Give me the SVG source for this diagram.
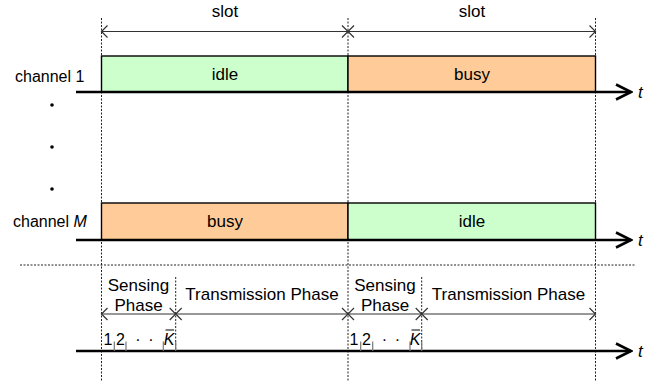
<svg xmlns="http://www.w3.org/2000/svg" width="667" height="381" viewBox="0 0 667 381">
<defs>
<style>
text{font-family:"Liberation Sans",Arial,sans-serif;font-size:17px;fill:#000}
.c{text-anchor:middle}
.it{font-style:italic}
.sm{font-size:16px}
.dot{stroke:#222;stroke-width:1;stroke-dasharray:2,1.5;fill:none}
.dim{stroke:#333;stroke-width:1.2;fill:none;marker-start:url(#sh);marker-end:url(#sh)}
.axis{stroke:#000;stroke-width:2.6;fill:none;marker-end:url(#ah)}
.tick{stroke:#777;stroke-width:1.2}
.g{fill:#CCFFCC;stroke:#000;stroke-width:1.4}
.o{fill:#FFCC99;stroke:#000;stroke-width:1.4}
</style>
<marker id="sh" viewBox="-8 -8 10 16" markerWidth="10" markerHeight="16" refX="0" refY="0" orient="auto-start-reverse" markerUnits="userSpaceOnUse">
<path d="M-6,-6 L0,0 L-6,6" fill="none" stroke="#333" stroke-width="1.2"/>
</marker>
<marker id="ah" viewBox="-17 -10 19 20" markerWidth="19" markerHeight="20" refX="0" refY="0" orient="auto" markerUnits="userSpaceOnUse">
<path d="M-15,-7.5 L0,0 L-15,7.5" fill="none" stroke="#000" stroke-width="2.6"/>
</marker>
</defs>

<g id="guides">
<line class="dot" x1="101.5" y1="18" x2="101.5" y2="381"/>
<line class="dot" x1="348" y1="18" x2="348" y2="381"/>
<line class="dot" x1="595.5" y1="18" x2="595.5" y2="381"/>
<line class="dot" x1="175.7" y1="277" x2="175.7" y2="351"/>
<line class="dot" x1="421.7" y1="277" x2="421.7" y2="351"/>
<line class="dot" x1="20" y1="265" x2="636" y2="265"/>
</g>

<g id="channel1-idle"><rect class="g" x="101.5" y="56" width="246.5" height="36"/><text class="c" x="225" y="80">idle</text></g>
<g id="channel1-busy"><rect class="o" x="348" y="56" width="247.5" height="36"/><text class="c" x="472" y="80">busy</text></g>
<g id="channelM-busy"><rect class="o" x="101.5" y="203" width="246.5" height="37"/><text class="c" x="225" y="227">busy</text></g>
<g id="channelM-idle"><rect class="g" x="348" y="203" width="247.5" height="37"/><text class="c" x="472" y="227">idle</text></g>

<g id="connectors">
<line class="dim" x1="101.5" y1="31.5" x2="348" y2="31.5"/>
<line class="dim" x1="348" y1="31.5" x2="595.5" y2="31.5"/>
<line class="dim" x1="101.5" y1="314" x2="175.7" y2="314"/>
<line class="dim" x1="175.7" y1="314" x2="348" y2="314"/>
<line class="dim" x1="348" y1="314" x2="421.7" y2="314"/>
<line class="dim" x1="421.7" y1="314" x2="595.5" y2="314"/>
<line class="axis" x1="76" y1="92" x2="631" y2="92"/>
<line class="axis" x1="76" y1="240" x2="631" y2="240"/>
<line class="axis" x1="76" y1="351" x2="631" y2="351"/>
<line class="tick" x1="114.3" y1="341.5" x2="114.3" y2="351"/>
<line class="tick" x1="126" y1="341.5" x2="126" y2="351"/>
<line class="tick" x1="163.3" y1="341.5" x2="163.3" y2="351"/>
<line class="tick" x1="175.7" y1="341.5" x2="175.7" y2="351"/>
<line class="tick" x1="360.7" y1="341.5" x2="360.7" y2="351"/>
<line class="tick" x1="372.7" y1="341.5" x2="372.7" y2="351"/>
<line class="tick" x1="410" y1="341.5" x2="410" y2="351"/>
<line class="tick" x1="421.7" y1="341.5" x2="421.7" y2="351"/>
</g>

<g id="labels">
<text class="c" x="225" y="17">slot</text>
<text class="c" x="472" y="17">slot</text>
<text x="15" y="82" class="sm">channel 1</text>
<text x="13" y="227" class="sm">channel <tspan class="it">M</tspan></text>
<text class="it" x="638" y="98">t</text>
<text class="it" x="638" y="246">t</text>
<text class="it" x="638" y="357">t</text>
<circle cx="52" cy="105" r="1.8"/>
<circle cx="52" cy="147" r="1.8"/>
<circle cx="52" cy="189" r="1.8"/>
<text class="c" x="138.5" y="291">Sensing</text>
<text class="c" x="138.5" y="311">Phase</text>
<text class="c" x="385" y="291">Sensing</text>
<text class="c" x="385" y="311">Phase</text>
<text class="c" x="262" y="300">Transmission Phase</text>
<text class="c" x="508.5" y="300">Transmission Phase</text>
<text class="c sm" x="108" y="345">1</text>
<text class="c sm" x="120.5" y="345">2</text>
<text class="c sm" x="138" y="345">·</text>
<text class="c sm" x="151" y="345">·</text>
<text class="c it sm" x="169" y="345">K</text>
<line x1="165.5" y1="330" x2="174" y2="330" stroke="#000" stroke-width="1"/>
<text class="c sm" x="354" y="345">1</text>
<text class="c sm" x="366.5" y="345">2</text>
<text class="c sm" x="384.5" y="345">·</text>
<text class="c sm" x="397.5" y="345">·</text>
<text class="c it sm" x="415" y="345">K</text>
<line x1="411.5" y1="330" x2="420" y2="330" stroke="#000" stroke-width="1"/>
</g>
</svg>
